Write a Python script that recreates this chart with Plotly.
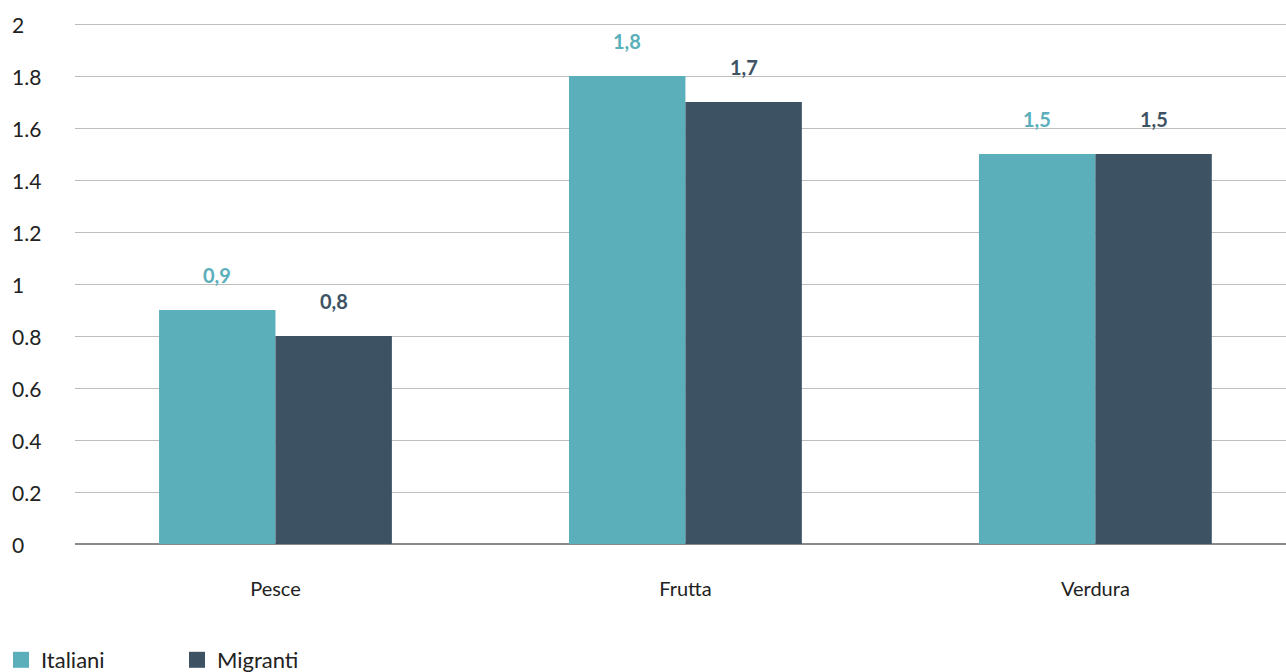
import plotly.graph_objects as go

categories = ["Pesce", "Frutta", "Verdura"]
italiani = [0.9, 1.8, 1.5]
migranti = [0.8, 1.7, 1.5]
y_ticks = [0, 0.2, 0.4, 0.6, 0.8, 1, 1.2, 1.4, 1.6, 1.8, 2]
y_tick_labels = ["0", "0.2", "0.4", "0.6", "0.8", "1", "1.2", "1.4", "1.6", "1.8", "2"]

COL_IT = "#5aafba"
COL_MI = "#3d5364"
FONT = "Lato"
TXT = "#222222"

W, H = 1286, 672
ML, MR, MT, MB = 75, 0, 21, 128
plot_w = W - ML - MR
plot_h = H - MT - MB
Y_TOP = plot_h / 260.0  # 260 px per unit, leaves room for the top gridline


def fmt(v):
    return f"{v:.1f}".replace(".", ",")


fig = go.Figure()
fig.add_trace(go.Bar(x=categories, y=italiani, marker_color=COL_IT,
                     marker_line_width=0, showlegend=False, name="Italiani"))
fig.add_trace(go.Bar(x=categories, y=migranti, marker_color=COL_MI,
                     marker_line_width=0, showlegend=False, name="Migranti"))

# legend entries with larger square swatches
for name, col in [("Italiani", COL_IT), ("Migranti", COL_MI)]:
    fig.add_trace(go.Scatter(x=[None], y=[None], mode="markers", name=name,
                             marker=dict(symbol="square", size=16, color=col)))

annotations = []
# value labels above the bars
for i, cat in enumerate(categories):
    for vals, col, off in [(italiani, COL_IT, -0.142), (migranti, COL_MI, 0.142)]:
        annotations.append(dict(
            x=i + off, y=vals[i], xref="x", yref="y", text=f"<b>{fmt(vals[i])}</b>",
            showarrow=False, yanchor="middle", yshift=35,
            font=dict(family=FONT, size=20, color=col)))

# left-aligned y-axis labels
for v, t in zip(y_ticks, y_tick_labels):
    annotations.append(dict(
        x=(10 - ML) / plot_w, y=v, xref="paper", yref="y", text=t,
        showarrow=False, xanchor="left", yanchor="middle",
        font=dict(family=FONT, size=21, color=TXT)))

fig.update_layout(
    width=W, height=H,
    margin=dict(l=ML, r=MR, t=MT, b=MB, autoexpand=False),
    paper_bgcolor="white", plot_bgcolor="white",
    barmode="group", bargap=0.432, bargroupgap=0,
    font=dict(family=FONT, size=20, color=TXT),
    xaxis=dict(range=[-0.489, 2.465], showgrid=False, showline=False,
               ticks="", zeroline=False, ticklabelstandoff=31,
               tickfont=dict(family=FONT, size=20, color=TXT)),
    yaxis=dict(range=[0, Y_TOP], tickvals=y_ticks, showticklabels=False,
               showgrid=True, gridcolor="#bdbdbd", gridwidth=1,
               zeroline=True, zerolinecolor="#8a8a8a", zerolinewidth=2,
               showline=False, fixedrange=True),
    legend=dict(orientation="h", x=(1 - ML) / plot_w, y=(H - MB - 660) / plot_h,
                xanchor="left", yanchor="middle", entrywidth=131,
                font=dict(family=FONT, size=22, color=TXT),
                itemclick=False),
    annotations=annotations,
)

fig.write_html("out.html")
